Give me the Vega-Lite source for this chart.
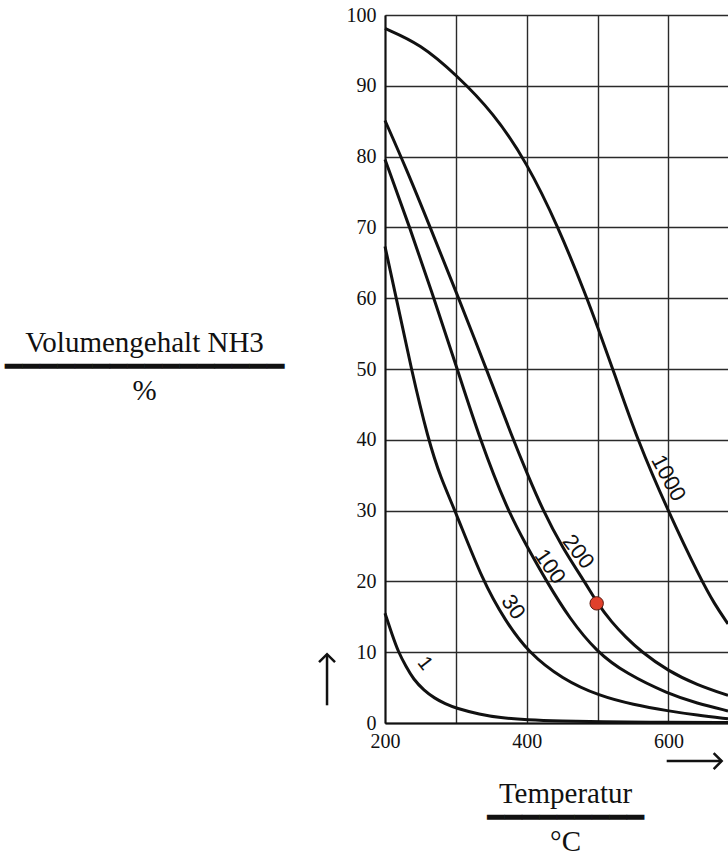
{
  "$schema": "https://vega.github.io/schema/vega-lite/v6.json",
  "width": 343,
  "height": 708,
  "autosize": {"type": "none"},
  "padding": {"left": 385, "top": 15, "right": 0, "bottom": 131},
  "background": "white",
  "view": {"stroke": null},
  "config": {"font": "Liberation Serif"},
  "datasets": {
    "curves": [
      {"p": "1000", "T": 200, "v": 98.1}, {"p": "1000", "T": 250, "v": 95.9}, {"p": "1000", "T": 300, "v": 91.6}, {"p": "1000", "T": 353, "v": 86.2}, {"p": "1000", "T": 400, "v": 79.2}, {"p": "1000", "T": 444, "v": 70.2}, {"p": "1000", "T": 486, "v": 59.8}, {"p": "1000", "T": 500, "v": 55.9}, {"p": "1000", "T": 523, "v": 49.6}, {"p": "1000", "T": 556, "v": 40.0}, {"p": "1000", "T": 600, "v": 29.8}, {"p": "1000", "T": 646, "v": 20.2}, {"p": "1000", "T": 665, "v": 16.8}, {"p": "1000", "T": 684, "v": 14.0},
      {"p": "200", "T": 200, "v": 85.1}, {"p": "200", "T": 230, "v": 78.3}, {"p": "200", "T": 263, "v": 70.2}, {"p": "200", "T": 302, "v": 60.5}, {"p": "200", "T": 343, "v": 50.0}, {"p": "200", "T": 381, "v": 40.0}, {"p": "200", "T": 400, "v": 35.4}, {"p": "200", "T": 422, "v": 30.2}, {"p": "200", "T": 450, "v": 24.8}, {"p": "200", "T": 484, "v": 19.6}, {"p": "200", "T": 499, "v": 17.0}, {"p": "200", "T": 520, "v": 14.2}, {"p": "200", "T": 540, "v": 12.1}, {"p": "200", "T": 560, "v": 10.2}, {"p": "200", "T": 600, "v": 7.3}, {"p": "200", "T": 640, "v": 5.4}, {"p": "200", "T": 684, "v": 3.9},
      {"p": "100", "T": 200, "v": 79.6}, {"p": "100", "T": 235, "v": 70.0}, {"p": "100", "T": 269, "v": 60.0}, {"p": "100", "T": 302, "v": 50.0}, {"p": "100", "T": 334, "v": 40.0}, {"p": "100", "T": 373, "v": 30.0}, {"p": "100", "T": 400, "v": 25.0}, {"p": "100", "T": 428, "v": 20.0}, {"p": "100", "T": 460, "v": 14.8}, {"p": "100", "T": 499, "v": 10.0}, {"p": "100", "T": 540, "v": 7.0}, {"p": "100", "T": 600, "v": 4.1}, {"p": "100", "T": 640, "v": 2.8}, {"p": "100", "T": 684, "v": 1.7},
      {"p": "30", "T": 200, "v": 67.3}, {"p": "30", "T": 216, "v": 60.0}, {"p": "30", "T": 237, "v": 50.0}, {"p": "30", "T": 261, "v": 40.0}, {"p": "30", "T": 279, "v": 34.5}, {"p": "30", "T": 299, "v": 30.0}, {"p": "30", "T": 338, "v": 20.0}, {"p": "30", "T": 370, "v": 14.4}, {"p": "30", "T": 402, "v": 10.0}, {"p": "30", "T": 450, "v": 6.2}, {"p": "30", "T": 503, "v": 3.8}, {"p": "30", "T": 550, "v": 2.6}, {"p": "30", "T": 600, "v": 1.7}, {"p": "30", "T": 640, "v": 1.1}, {"p": "30", "T": 684, "v": 0.6},
      {"p": "1", "T": 200, "v": 15.5}, {"p": "1", "T": 210, "v": 12.5}, {"p": "1", "T": 219, "v": 10.0}, {"p": "1", "T": 230, "v": 7.9}, {"p": "1", "T": 240, "v": 6.2}, {"p": "1", "T": 255, "v": 4.6}, {"p": "1", "T": 270, "v": 3.5}, {"p": "1", "T": 285, "v": 2.7}, {"p": "1", "T": 300, "v": 2.1}, {"p": "1", "T": 334, "v": 1.2}, {"p": "1", "T": 362, "v": 0.75}, {"p": "1", "T": 400, "v": 0.45}, {"p": "1", "T": 450, "v": 0.28}, {"p": "1", "T": 500, "v": 0.18}, {"p": "1", "T": 600, "v": 0.1}, {"p": "1", "T": 684, "v": 0.06}
    ],
    "marker": [{"T": 498.7, "v": 16.9}]
  },
  "layer": [
    {
      "data": {"name": "curves"},
      "mark": {"type": "line", "strokeWidth": 3, "color": "#111", "interpolate": "basis"},
      "encoding": {
        "x": {
          "field": "T", "type": "quantitative",
          "scale": {"domain": [200, 684], "nice": false},
          "axis": {
            "values": [200, 300, 400, 500, 600],
            "labelExpr": "datum.value % 200 == 0 ? datum.label : ''",
            "format": "d",
            "grid": true, "gridColor": "#2a2a2a", "gridWidth": 1.4,
            "ticks": false,
            "domainColor": "#111", "domainWidth": 2,
            "labelFont": "Liberation Serif", "labelFontSize": 20, "labelColor": "#111", "labelPadding": 8, "labelFlush": false,
            "title": ["Temperatur", "━━━━━━━━━", "°C"],
            "titleFont": "Liberation Serif, DejaVu Sans", "titleFontSize": 29, "titleFontWeight": "normal", "titleColor": "#111",
            "titleX": 180, "titleY": 79, "titleAlign": "center", "titleBaseline": "alphabetic", "titleLineHeight": 24
          }
        },
        "y": {
          "field": "v", "type": "quantitative",
          "scale": {"domain": [0, 100], "nice": false},
          "axis": {
            "values": [0, 10, 20, 30, 40, 50, 60, 70, 80, 90, 100],
            "grid": true, "gridColor": "#2a2a2a", "gridWidth": 1.4,
            "ticks": false,
            "domainColor": "#111", "domainWidth": 2,
            "labelFont": "Liberation Serif", "labelFontSize": 20, "labelColor": "#111", "labelPadding": 9,
            "title": ["Volumengehalt NH3", "━━━━━━━━━━━━━━━━", "%"],
            "titleFont": "Liberation Serif, DejaVu Sans", "titleFontSize": 29, "titleFontWeight": "normal", "titleColor": "#111",
            "titleAngle": 0, "titleX": -241, "titleY": 336, "titleAlign": "center", "titleBaseline": "alphabetic", "titleLineHeight": 24
          }
        },
        "detail": {"field": "p", "type": "nominal"}
      }
    },
    {
      "data": {"name": "marker"},
      "mark": {"type": "point", "filled": true, "fill": "#e0402b", "stroke": "#5a1a10", "strokeWidth": 1, "size": 180, "opacity": 1},
      "encoding": {
        "x": {"field": "T", "type": "quantitative"},
        "y": {"field": "v", "type": "quantitative"}
      }
    },
    {
      "data": {"values": [{}]},
      "mark": {"type": "text", "text": "1000", "font": "Liberation Sans", "fontSize": 22, "angle": 62, "align": "center", "baseline": "middle", "color": "#111"},
      "encoding": {"x": {"datum": 599.8, "type": "quantitative"}, "y": {"datum": 34.6, "type": "quantitative"}}
    },
    {
      "data": {"values": [{}]},
      "mark": {"type": "text", "text": "200", "font": "Liberation Sans", "fontSize": 22, "angle": 52, "align": "center", "baseline": "middle", "color": "#111"},
      "encoding": {"x": {"datum": 472.8, "type": "quantitative"}, "y": {"datum": 24.2, "type": "quantitative"}}
    },
    {
      "data": {"values": [{}]},
      "mark": {"type": "text", "text": "100", "font": "Liberation Sans", "fontSize": 22, "angle": 55, "align": "center", "baseline": "middle", "color": "#111"},
      "encoding": {"x": {"datum": 432.8, "type": "quantitative"}, "y": {"datum": 22.1, "type": "quantitative"}}
    },
    {
      "data": {"values": [{}]},
      "mark": {"type": "text", "text": "30", "font": "Liberation Sans", "fontSize": 22, "angle": 55, "align": "center", "baseline": "middle", "color": "#111"},
      "encoding": {"x": {"datum": 381, "type": "quantitative"}, "y": {"datum": 16.4, "type": "quantitative"}}
    },
    {
      "data": {"values": [{}]},
      "mark": {"type": "text", "text": "1", "font": "Liberation Sans", "fontSize": 20, "angle": 52, "align": "center", "baseline": "middle", "color": "#111"},
      "encoding": {"x": {"datum": 256.4, "type": "quantitative"}, "y": {"datum": 8.4, "type": "quantitative"}}
    },
    {
      "data": {"values": [{}]},
      "mark": {"type": "rule", "strokeWidth": 2.5, "color": "#111"},
      "encoding": {"x": {"datum": 118.2, "type": "quantitative"}, "y": {"datum": 2.5, "type": "quantitative"}, "y2": {"datum": 9.7}}
    },
    {
      "data": {"values": [{}]},
      "mark": {"type": "point", "shape": "M-1,0.5L0,-0.5L1,0.5", "filled": false, "size": 256, "strokeWidth": 2.5, "color": "#111", "opacity": 1},
      "encoding": {"x": {"datum": 118.2, "type": "quantitative"}, "y": {"datum": 9.15, "type": "quantitative"}}
    },
    {
      "data": {"values": [{}]},
      "mark": {"type": "rule", "strokeWidth": 2.5, "color": "#111"},
      "encoding": {"x": {"datum": 597.5, "type": "quantitative"}, "x2": {"datum": 675}, "y": {"datum": -5.37, "type": "quantitative"}}
    },
    {
      "data": {"values": [{}]},
      "mark": {"type": "point", "shape": "M-0.5,-1L0.5,0L-0.5,1", "filled": false, "size": 256, "strokeWidth": 2.5, "color": "#111", "opacity": 1},
      "encoding": {"x": {"datum": 669.4, "type": "quantitative"}, "y": {"datum": -5.37, "type": "quantitative"}}
    }
  ]
}
